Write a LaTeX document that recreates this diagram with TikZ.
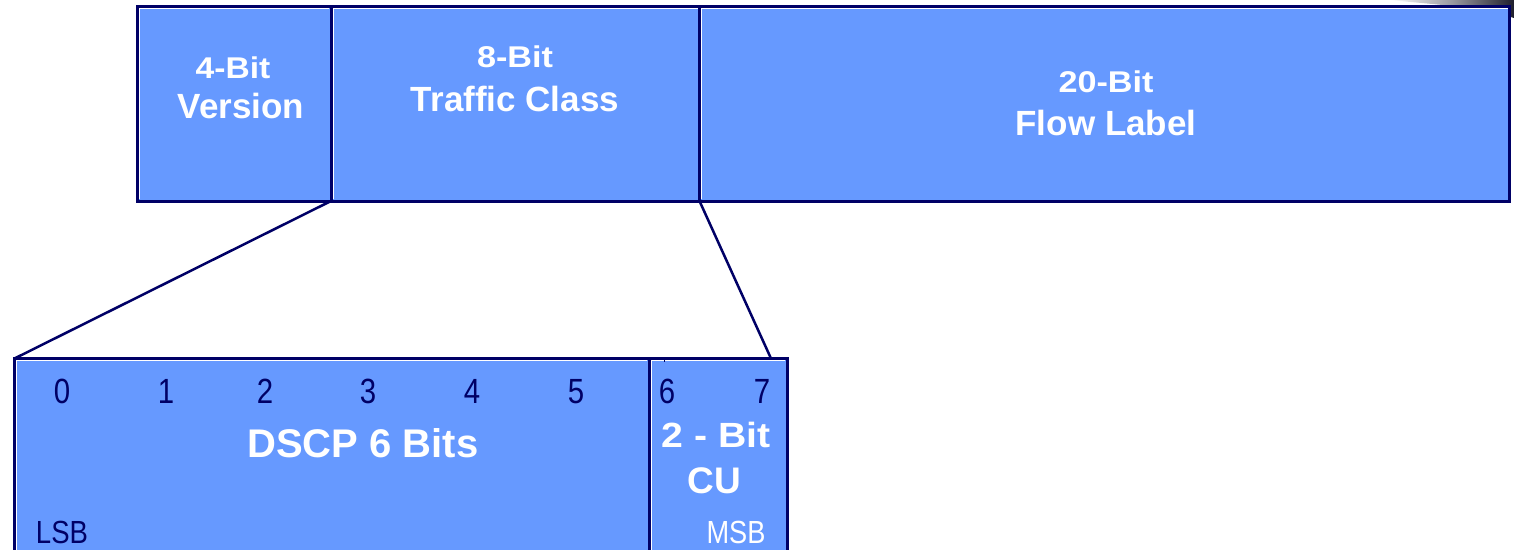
\documentclass[tikz,border=0pt]{standalone}
\usepackage{fontspec}
\setmainfont{Liberation Sans}
\definecolor{field}{HTML}{6699FF}
\definecolor{navy}{HTML}{000066}
\definecolor{smear}{HTML}{1E1E2C}
\newcommand\setfs[1]{\fontsize{#1}{#1}\selectfont}
\begin{document}
\begin{tikzpicture}[x=1pt,y=-1pt,
  cell/.style={draw=navy, fill=field, line width=3pt, rectangle,
    inner sep=0pt, outer sep=0pt, anchor=north west},
  hl/.style={draw=white, line width=1.2pt},
  link/.style={draw=navy, line width=2.5pt},
  lbl/.style={text=white, font=\bfseries, anchor=base, inner sep=0pt},
  bitno/.style={text=navy, anchor=base, inner sep=0pt},
]
\clip (0,0) rectangle (1514,549);
\fill[white] (0,0) rectangle (1514,549);

% dark smear along the top right corner
\shade[left color=white, right color=smear, middle color=smear!45!white]
  (1390,0) -- (1514,0) -- (1514,18)
  .. controls (1480,7) and (1440,5) .. (1390,0) -- cycle;

% IPv6 header fields
\node[cell, minimum width=193.5pt, minimum height=194.5pt] (ver) at (137.5,6.5) {};
\node[cell, minimum width=368.5pt, minimum height=194.5pt] (tc)  at (331,6.5) {};
\node[cell, minimum width=810pt,   minimum height=194.5pt] (fl)  at (699.5,6.5) {};

% expanded traffic class byte
\node[cell, minimum width=634.5pt, minimum height=220pt] (dscp) at (14.5,358.5) {};
\node[cell, minimum width=138pt,   minimum height=220pt] (cu)   at (649,358.5) {};

% light bevel along the top and left inside each field
\foreach \c in {ver,tc,fl,dscp,cu}{
  \draw[hl] ([xshift=2.1pt,yshift=2pt]\c.south west)
         -- ([xshift=2.1pt,yshift=-2.1pt]\c.north west)
         -- ([xshift=-1.6pt,yshift=-2.1pt]\c.north east);
  \draw[navy, line width=3pt] (\c.south west) -- (\c.north west)
         -- (\c.north east) -- (\c.south east) -- cycle;
}
\draw[navy, line width=1.5pt] (664.5,358) -- (664.5,361.5);

% lines showing which field is expanded
\coordinate (cutop) at ([xshift=-16pt]cu.north east);
\draw[link] (tc.south west) -- (dscp.north west);
\draw[link] (tc.south east) -- (cutop);

% field labels
\node[lbl] (v1) at (233,78)  {\setfs{30}\scalebox{1.12}[1]{4-Bit}};
\node[lbl] (v2) at (241,118) {\setfs{35}Version};
\node[lbl] (t1) at (515,67)  {\setfs{30}\scalebox{1.14}[1]{8-Bit}};
\node[lbl] (t2) at (515,111) {\setfs{35}Traffic Class};
\node[lbl] (f1) at (1106,92) {\setfs{30}\scalebox{1.14}[1]{20-Bit}};
\node[lbl] (f2) at (1106,135){\setfs{35}Flow Label};

\node[lbl] (dl)  at (363,457) {\setfs{40}DSCP 6 Bits};
\node[lbl] (cl1) at (716,447) {\setfs{35}\scalebox{1.12}[1]{2 - Bit}};
\node[lbl] (cl2) at (714,493) {\setfs{37}CU};

% bit numbers
\foreach \n/\x in {0/62,1/166,2/265,3/368,4/472,5/576,6/667,7/762}
  \node[bitno] (b\n) at (\x,403) {\setfs{35}\scalebox{0.84}[1]{\n}};

\node[bitno] (lsb) at (62,543) {\setfs{32}\scalebox{0.86}[1]{LSB}};
\node[bitno, text=white] (msb) at (736,543) {\setfs{32}\scalebox{0.85}[1]{MSB}};
\end{tikzpicture}
\end{document}
